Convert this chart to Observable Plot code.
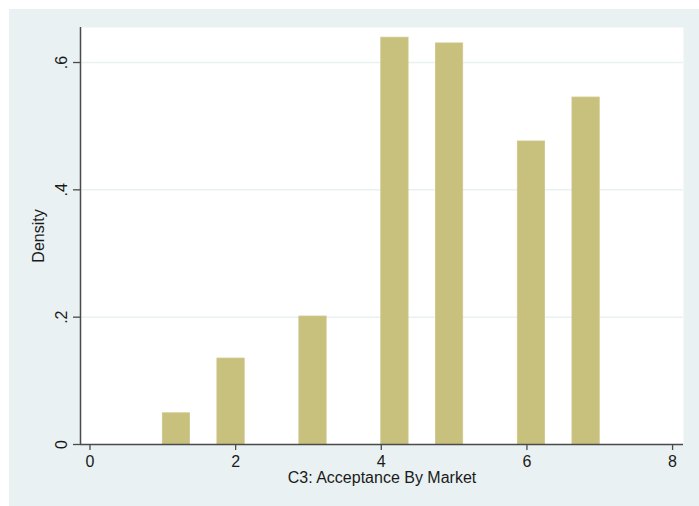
<!DOCTYPE html>
<html><head><meta charset="utf-8">
<script src="https://cdn.jsdelivr.net/npm/d3@7"></script>
<script src="https://cdn.jsdelivr.net/npm/@observablehq/plot@0.6"></script>
<style>
body{margin:0;background:#fff;}
#wrap{position:relative;width:699px;height:506px;overflow:hidden;}
#panel{position:absolute;left:9px;top:9px;width:690px;height:497px;background:#e9f1f3;}
#chart{position:absolute;left:0;top:0;}
</style></head><body>
<div id="wrap"><div id="panel"></div><div id="chart"></div></div>
<script>
const binStart = [1, 1.75, 2.875, 4, 4.75, 5.875, 6.625];
const binEnd = [1.375, 2.125, 3.25, 4.375, 5.125, 6.25, 7];
const density = [0.049, 0.135, 0.201, 0.639, 0.630, 0.476, 0.545];
const xTicks = [0, 2, 4, 6, 8];
const xTickLabels = ["0", "2", "4", "6", "8"];
const yTicks = [0, 0.2, 0.4, 0.6];
const yTickLabels = ["0", ".2", ".4", ".6"];
const xTitle = "C3: Acceptance By Market";
const yTitle = "Density";

const bars = binStart.map((s, i) => ({x1: s, x2: binEnd[i], y: density[i]}));
const font = "'Liberation Sans', Arial, Helvetica, sans-serif";
const ink = "#1a1a1a";
const axisColor = "#4a4a4a";

const plot = Plot.plot({
  width: 699, height: 506,
  marginLeft: 80, marginRight: 16, marginTop: 27, marginBottom: 62,
  style: {background: "transparent", fontFamily: font, fontSize: "16px", color: ink},
  x: {domain: [-0.13, 8.15], axis: null},
  y: {domain: [0, 0.655], axis: null},
  marks: [
    Plot.frame({fill: "white", stroke: null}),
    Plot.ruleY(yTicks.filter(d => d > 0), {stroke: "#e9f1f3", strokeWidth: 1.5}),
    Plot.rectY(bars, {x1: "x1", x2: "x2", y: "y", fill: "#c8c07d", stroke: "#cfc78a", strokeWidth: 0.8}),
    Plot.axisX({ticks: xTicks, tickFormat: (d) => xTickLabels[xTicks.indexOf(d)], tickSize: 6, tickPadding: 5, stroke: axisColor, strokeWidth: 1.3, fill: ink, fontSize: 16, label: null}),
    Plot.axisY({ticks: yTicks, tickFormat: () => "", tickSize: 7, tickPadding: 0, stroke: axisColor, strokeWidth: 1.3, label: null}),
    Plot.text(yTicks, {y: d => d, text: (d) => yTickLabels[yTicks.indexOf(d)], frameAnchor: "left", textAnchor: "middle", dx: -19, rotate: -90, fontSize: 16, fill: ink}),
    Plot.ruleY([0], {stroke: axisColor, strokeWidth: 1.5}),
    Plot.ruleX([-0.13], {stroke: axisColor, strokeWidth: 1.5}),
    Plot.text([xTitle], {frameAnchor: "bottom", textAnchor: "middle", dy: 38, fontSize: 16, fill: ink}),
    Plot.text([yTitle], {frameAnchor: "left", textAnchor: "middle", dx: -42, rotate: -90, fontSize: 16, fill: ink})
  ]
});
document.getElementById("chart").appendChild(plot);
</script>
</body></html>
